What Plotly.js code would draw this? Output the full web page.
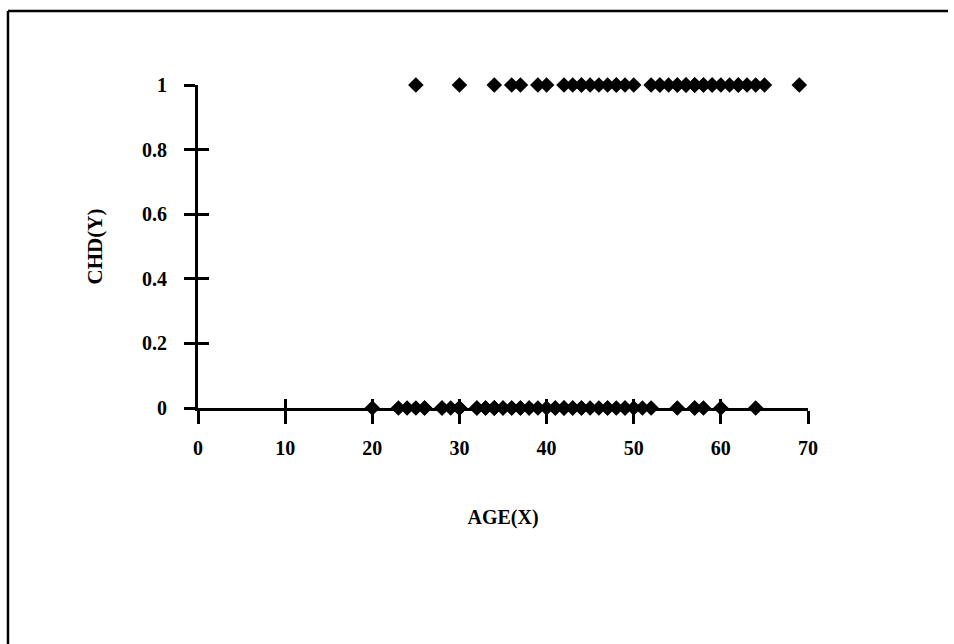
<!DOCTYPE html>
<html>
<head>
<meta charset="utf-8">
<script src="https://cdn.plot.ly/plotly-3.0.1.min.js"></script>
<style>
  html, body { margin: 0; padding: 0; background: #ffffff; }
  #chart { width: 954px; height: 644px; }
</style>
</head>
<body>
<div id="chart"></div>
<script>
// AGE (X) of each subject and CHD (Y) status
var age = [20, 23, 24, 25, 25, 26, 26, 28, 28, 29,
           30, 30, 30, 30, 30, 30, 32, 32, 33, 33,
           34, 34, 34, 34, 34, 35, 35, 36, 36, 36,
           37, 37, 37, 38, 38, 39, 39, 40, 40, 41,
           41, 42, 42, 42, 42, 43, 43, 43, 44, 44,
           44, 44, 45, 45, 46, 46, 47, 47, 47, 48,
           48, 48, 49, 49, 49, 50, 50, 51, 52, 52,
           53, 53, 54, 55, 55, 55, 56, 56, 56, 57,
           57, 57, 57, 57, 57, 58, 58, 58, 59, 59,
           60, 60, 61, 62, 62, 63, 64, 64, 65, 69];
var chd = [0, 0, 0, 0, 1, 0, 0, 0, 0, 0,
           0, 0, 0, 0, 0, 1, 0, 0, 0, 0,
           0, 0, 1, 0, 0, 0, 0, 0, 1, 0,
           0, 1, 0, 0, 0, 0, 1, 0, 1, 0,
           0, 0, 0, 0, 1, 0, 0, 1, 0, 0,
           1, 1, 0, 1, 0, 1, 0, 0, 1, 0,
           1, 1, 0, 0, 1, 0, 1, 0, 0, 1,
           1, 1, 1, 0, 1, 1, 1, 1, 1, 0,
           0, 1, 1, 1, 1, 0, 1, 1, 1, 1,
           0, 1, 1, 1, 1, 1, 0, 1, 1, 1];
var xTicks = [0, 10, 20, 30, 40, 50, 60, 70];
var yTicks = [0, 0.2, 0.4, 0.6, 0.8, 1];
var yTickText = ['0', '0.2', '0.4', '0.6', '0.8', '1'];

var fam = '"Liberation Serif", "Times New Roman", serif';
function f(size) { return {family: fam, color: '#000000', size: size, weight: 'bold'}; }

var traces = [
  {
    type: 'scatter', mode: 'markers', x: age, y: chd,
    marker: {symbol: 'diamond', size: 12, color: '#000000', line: {width: 0}},
    cliponaxis: false, hoverinfo: 'x+y', showlegend: false
  },
  {
    type: 'scatter', mode: 'markers', x: age, y: chd, xaxis: 'x2', yaxis: 'y2',
    marker: {size: 1, opacity: 0}, hoverinfo: 'skip', showlegend: false
  }
];

var layout = {
  width: 954, height: 644,
  margin: {l: 198, r: 146, t: 85, b: 236},
  paper_bgcolor: '#ffffff', plot_bgcolor: 'rgba(0,0,0,0)',
  showlegend: false,
  xaxis: {
    range: [0, 70], tickvals: xTicks, ticktext: xTicks.map(String),
    showgrid: false, zeroline: false, showline: true, linecolor: '#000', linewidth: 3,
    ticks: 'outside', ticklen: 13, tickwidth: 3, tickcolor: '#000',
    ticklabelstandoff: 7, tickfont: f(20),
    title: {text: 'AGE(X)', font: f(20), standoff: 52},
    fixedrange: true
  },
  yaxis: {
    range: [0, 1], tickvals: yTicks, ticktext: yTickText,
    showgrid: false, zeroline: false, showline: true, linecolor: '#000', linewidth: 3,
    ticks: 'outside', ticklen: 11, tickwidth: 3, tickcolor: '#000',
    ticklabelstandoff: 13, tickfont: f(20),
    title: {text: 'CHD(Y)', font: f(21), standoff: 34},
    fixedrange: true
  },
  xaxis2: {
    overlaying: 'x', anchor: 'y2', side: 'bottom', range: [0, 70], tickvals: xTicks,
    showticklabels: false, showgrid: false, zeroline: false, showline: false,
    ticks: 'inside', ticklen: 9, tickwidth: 3, tickcolor: '#000', fixedrange: true
  },
  yaxis2: {
    overlaying: 'y', anchor: 'x2', side: 'left', range: [0, 1], tickvals: yTicks,
    showticklabels: false, showgrid: false, zeroline: false, showline: false,
    ticks: 'inside', ticklen: 11, tickwidth: 3, tickcolor: '#000', fixedrange: true
  },
  shapes: [
    {type: 'line', xref: 'paper', yref: 'paper', x0: -0.3115, x1: 1.2295, y0: 1.229, y1: 1.229,
     line: {color: '#000', width: 2.5}},
    {type: 'line', xref: 'paper', yref: 'paper', x0: -0.3115, x1: -0.3115, y0: 1.229, y1: -0.735,
     line: {color: '#000', width: 2.5}}
  ]
};

Plotly.newPlot('chart', traces, layout, {displayModeBar: false, staticPlot: true});
</script>
</body>
</html>
